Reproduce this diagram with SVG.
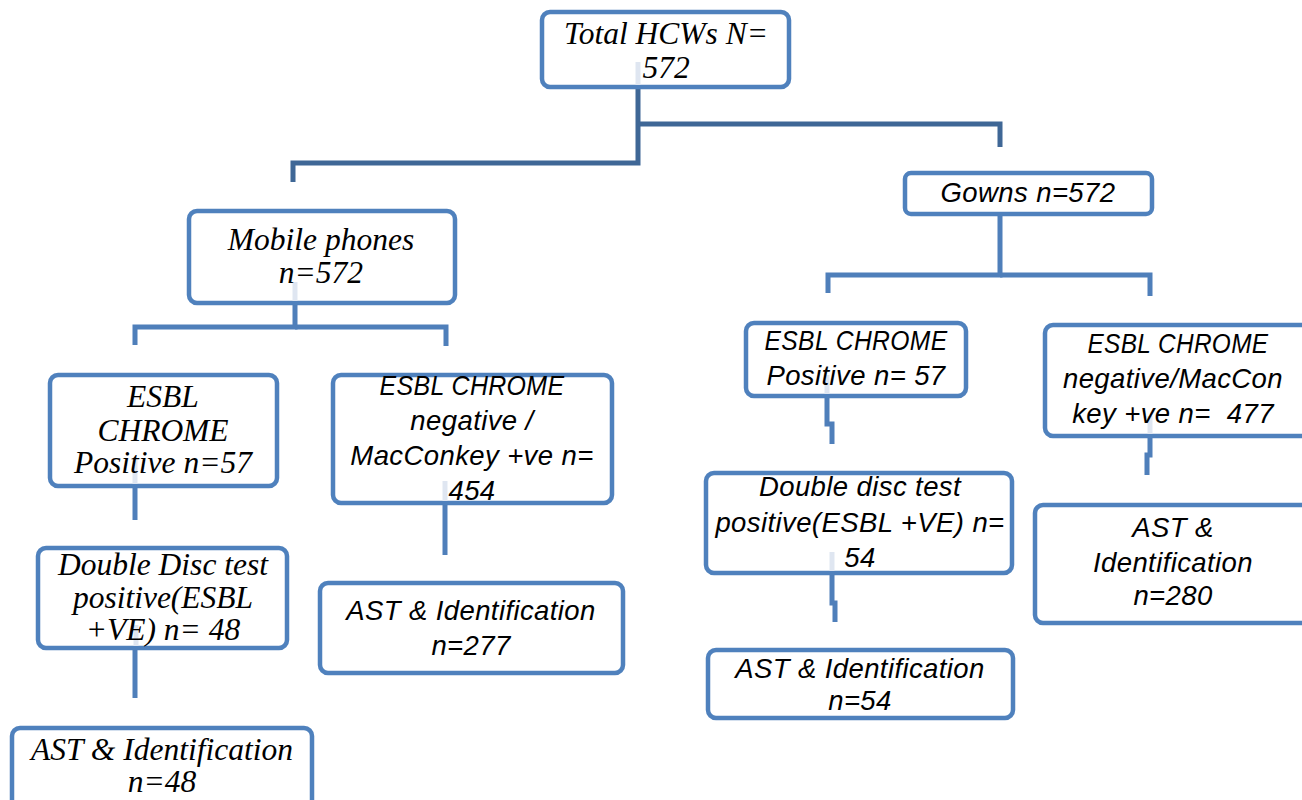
<svg xmlns="http://www.w3.org/2000/svg" width="1302" height="800" viewBox="0 0 1302 800">
<style>
.box{fill:#fff;stroke:#4f81bd;stroke-width:4.5}
.ser{font-family:"Liberation Serif","Times New Roman",serif;font-style:italic;font-size:31.5px;fill:#000;text-anchor:middle}
.san{font-family:"Liberation Sans",Arial,sans-serif;font-style:italic;font-size:27.5px;letter-spacing:0.4px;fill:#000;text-anchor:middle}
.c1{fill:none;stroke:#3f6796;stroke-width:5}
.c2{fill:none;stroke:#4f7fba;stroke-width:5}
.ghost{stroke:#dfe6f1;stroke-width:5}
</style>
<rect width="1302" height="800" fill="#fff"/>
<g id="connectors">
<path class="c1" d="M638,87 V163 H293 V182"/>
<path class="c1" d="M638,124 H1000 V147"/>
<path class="c2" d="M295,303 V327 H135 V345"/>
<path class="c2" d="M295,327 H446 V346"/>
<path class="c2" d="M135,486 V520"/>
<path class="c2" d="M135,648 V698"/>
<path class="c2" d="M445,503 V555"/>
<path class="c2" d="M1000,214 V275 H828 V293"/>
<path class="c2" d="M1000,275 H1150 V296"/>
<path class="c2" d="M827,396 V424 H832 V444"/>
<path class="c2" d="M832,573 V603 H835 V622"/>
<path class="c2" d="M1150,436 V455 H1147 V475"/>
</g>
<g id="n-total">
<rect class="box" x="542" y="12" width="247" height="75" rx="8"/>
<line class="ghost" x1="638" y1="62" x2="638" y2="85"/>
<text class="ser" x="666" y="44">Total HCWs N=</text>
<text class="ser" x="666" y="78">572</text>
</g>
<g id="n-gowns">
<rect class="box" x="905" y="173" width="247" height="41" rx="6"/>
<text class="san" x="1028" y="202">Gowns n=572</text>
</g>
<g id="n-mobile">
<rect class="box" x="189" y="211" width="266" height="92" rx="8"/>
<line class="ghost" x1="295" y1="282" x2="295" y2="301"/>
<text class="ser" x="321" y="250">Mobile phones</text>
<text class="ser" x="321" y="283">n=572</text>
</g>
<g id="n-esbl-pos-m">
<rect class="box" x="50" y="375" width="227" height="111" rx="8"/>
<line class="ghost" x1="135" y1="460" x2="135" y2="484"/>
<text class="ser" x="163" y="407">ESBL</text>
<text class="ser" x="163" y="441">CHROME</text>
<text class="ser" x="163" y="473">Positive n=57</text>
</g>
<g id="n-dd-m">
<rect class="box" x="38" y="548" width="249" height="100" rx="8"/>
<line class="ghost" x1="136" y1="625" x2="136" y2="646"/>
<text class="ser" x="163" y="575">Double Disc test</text>
<text class="ser" x="163" y="608">positive(ESBL</text>
<text class="ser" x="163" y="640">+VE) n= 48</text>
</g>
<g id="n-ast-48">
<rect class="box" x="12" y="728" width="300" height="90" rx="8"/>
<text class="ser" x="162" y="760">AST &amp; Identification</text>
<text class="ser" x="162" y="792">n=48</text>
</g>
<g id="n-esbl-neg-m">
<rect class="box" x="333" y="375" width="279" height="128" rx="8"/>
<line class="ghost" x1="445" y1="481" x2="445" y2="501"/>
<text class="san" x="472" y="395" textLength="185" lengthAdjust="spacingAndGlyphs">ESBL CHROME</text>
<text class="san" x="472" y="430">negative /</text>
<text class="san" x="472" y="465">MacConkey +ve n=</text>
<text class="san" x="472" y="500">454</text>
</g>
<g id="n-ast-277">
<rect class="box" x="320" y="583" width="303" height="90" rx="8"/>
<text class="san" x="471" y="620">AST &amp; Identification</text>
<text class="san" x="471" y="655">n=277</text>
</g>
<g id="n-esbl-pos-g">
<rect class="box" x="746" y="323" width="220" height="73" rx="8"/>
<line class="ghost" x1="827" y1="375" x2="827" y2="394"/>
<text class="san" x="856" y="350" textLength="183" lengthAdjust="spacingAndGlyphs">ESBL CHROME</text>
<text class="san" x="856" y="385">Positive n= 57</text>
</g>
<g id="n-dd-g">
<rect class="box" x="706" y="473" width="306" height="100" rx="8"/>
<line class="ghost" x1="832" y1="552" x2="832" y2="571"/>
<text class="san" x="860" y="496">Double disc test</text>
<text class="san" x="860" y="532">positive(ESBL +VE) n=</text>
<text class="san" x="860" y="567">54</text>
</g>
<g id="n-ast-54">
<rect class="box" x="708" y="650" width="305" height="68" rx="8"/>
<text class="san" x="860" y="678">AST &amp; Identification</text>
<text class="san" x="860" y="710">n=54</text>
</g>
<g id="n-esbl-neg-g">
<rect class="box" x="1045" y="325" width="270" height="111" rx="8"/>
<line class="ghost" x1="1150" y1="416" x2="1150" y2="434"/>
<text class="san" x="1178" y="353" textLength="181" lengthAdjust="spacingAndGlyphs">ESBL CHROME</text>
<text class="san" x="1173" y="388">negative/MacCon</text>
<text class="san" x="1173" y="423" xml:space="preserve">key +ve n=  477</text>
</g>
<g id="n-ast-280">
<rect class="box" x="1035" y="505" width="280" height="118" rx="8"/>
<text class="san" x="1173" y="537">AST &amp;</text>
<text class="san" x="1173" y="572">Identification</text>
<text class="san" x="1173" y="605">n=280</text>
</g>
</svg>
